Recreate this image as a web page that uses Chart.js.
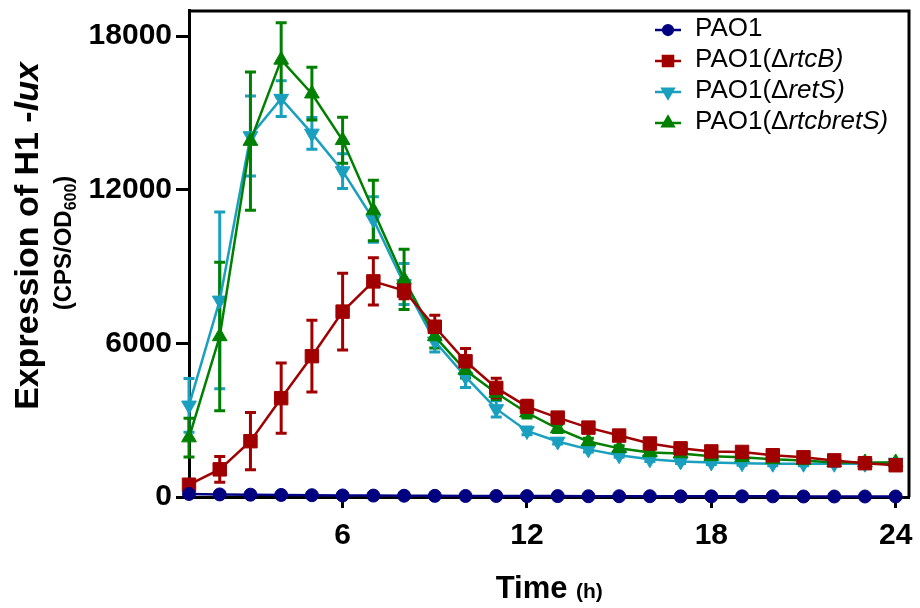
<!DOCTYPE html>
<html>
<head>
<meta charset="utf-8">
<script src="https://cdn.jsdelivr.net/npm/chart.js@4.4.0/dist/chart.umd.min.js"></script>
<style>
  html, body { margin: 0; padding: 0; background: #fff; }
</style>
</head>
<body>
<canvas id="chart" width="920" height="608"></canvas>
<script>
// Time points (h)
const hours = [1, 2, 3, 4, 5, 6, 7, 8, 9, 10, 11, 12, 13, 14, 15, 16, 17, 18, 19, 20, 21, 22, 23, 24];

// Mean values (CPS/OD600) and error bars for each strain
const pao1 = [120, 100, 90, 80, 70, 60, 55, 50, 45, 40, 40, 35, 35, 30, 30, 30, 25, 25, 25, 25, 20, 20, 20, 20];
const pao1Err = [0, 0, 0, 0, 0, 0, 0, 0, 0, 0, 0, 0, 0, 0, 0, 0, 0, 0, 0, 0, 0, 0, 0, 0];

const rtcB = [480, 1080, 2180, 3860, 5500, 7240, 8420, 8060, 6650, 5300, 4260, 3530, 3100, 2710, 2400, 2090, 1900, 1780, 1760, 1630, 1550, 1430, 1320, 1240];
const rtcBErr = [150, 500, 1120, 1370, 1400, 1500, 920, 320, 450, 500, 380, 250, 150, 120, 100, 100, 80, 80, 80, 80, 80, 80, 80, 80];

const retS = [3580, 7680, 14100, 15560, 14200, 12730, 10840, 8320, 6080, 4700, 3440, 2580, 2170, 1860, 1630, 1470, 1390, 1350, 1320, 1300, 1300, 1300, 1300, 1350];
const retSErr = [1050, 3450, 1560, 700, 620, 680, 890, 800, 420, 420, 320, 150, 100, 100, 80, 80, 80, 80, 80, 80, 80, 80, 80, 80];

const rtcbretS = [2320, 6270, 13900, 17070, 15750, 13930, 11190, 8500, 6270, 4950, 4060, 3290, 2670, 2170, 1900, 1740, 1700, 1590, 1550, 1470, 1430, 1350, 1350, 1350];
const rtcbretSErr = [760, 2900, 2700, 1450, 1030, 900, 1180, 1180, 450, 300, 250, 200, 150, 120, 100, 80, 80, 80, 80, 80, 80, 80, 80, 80];

// Axis ticks
const xTickValues = [6, 12, 18, 24];
const yTickValues = [0, 6000, 12000, 18000];

// Legend labels: upright part + italic part
const legendPlain = ["PAO1", "PAO1(\u0394", "PAO1(\u0394", "PAO1(\u0394"];
const legendItalic = ["", "rtcB)", "retS)", "rtcbretS)"];

const FONT = "'Liberation Sans', Arial, sans-serif";
const colors = ["#000080", "#a00000", "#1a9fbf", "#008000"];

function toPoints(values) {
  return hours.map((h, i) => ({ x: h, y: values[i] }));
}

function series(label, values, errors, color, style, radius, rotation) {
  return {
    label: label,
    data: toPoints(values),
    errors: errors,
    borderColor: color,
    backgroundColor: color,
    borderWidth: 2.5,
    pointStyle: style,
    pointRadius: radius,
    pointHoverRadius: radius,
    pointRotation: rotation || 0,
    pointBorderWidth: 1,
    tension: 0,
    clip: false,
  };
}

// Datasets: first one is drawn on top
const datasets = [
  series("PAO1", pao1, pao1Err, colors[0], "circle", 6.5),
  series("PAO1(ΔrtcB)", rtcB, rtcBErr, colors[1], "rect", 9.5),
  series("PAO1(ΔrtcbretS)", rtcbretS, rtcbretSErr, colors[3], "triangle", 8.5),
  series("PAO1(ΔretS)", retS, retSErr, colors[2], "triangle", 8.5, 180),
];

// Error bars, drawn under the markers
const errorBarsPlugin = {
  id: "errorBars",
  beforeDatasetsDraw: (chart) => {
    const ctx = chart.ctx;
    const yScale = chart.scales.y;
    for (let di = chart.data.datasets.length - 1; di >= 0; di--) {
      const ds = chart.data.datasets[di];
      const meta = chart.getDatasetMeta(di);
      ctx.save();
      ctx.strokeStyle = ds.borderColor;
      ctx.lineWidth = 3;
      meta.data.forEach((pt, i) => {
        const e = ds.errors[i];
        if (!e) return;
        const v = ds.data[i].y;
        const top = yScale.getPixelForValue(v + e);
        const bot = yScale.getPixelForValue(v - e);
        ctx.beginPath();
        ctx.moveTo(pt.x, top);
        ctx.lineTo(pt.x, bot);
        ctx.moveTo(pt.x - 5.5, top);
        ctx.lineTo(pt.x + 5.5, top);
        ctx.moveTo(pt.x - 5.5, bot);
        ctx.lineTo(pt.x + 5.5, bot);
        ctx.stroke();
      });
      ctx.restore();
    }
  },
};

// Top and right frame lines
const framePlugin = {
  id: "frame",
  beforeDatasetsDraw: (chart) => {
    const ctx = chart.ctx;
    const a = chart.chartArea;
    ctx.save();
    ctx.strokeStyle = "#000";
    ctx.lineWidth = 3;
    ctx.beginPath();
    ctx.moveTo(a.left, a.top + 0.5);
    ctx.lineTo(a.right - 0.5, a.top + 0.5);
    ctx.lineTo(a.right - 0.5, a.bottom);
    ctx.stroke();
    ctx.restore();
  },
};

function drawRuns(ctx, runs, x, y) {
  runs.forEach((r) => {
    ctx.font = r.font;
    ctx.fillText(r.text, x, y + (r.dy || 0));
    x += ctx.measureText(r.text).width;
  });
}

function runsWidth(ctx, runs) {
  let w = 0;
  runs.forEach((r) => {
    ctx.font = r.font;
    w += ctx.measureText(r.text).width;
  });
  return w;
}

// Axis titles and legend
const labelsPlugin = {
  id: "labels",
  afterDraw: (chart) => {
    const ctx = chart.ctx;
    const a = chart.chartArea;
    ctx.save();
    ctx.fillStyle = "#000";
    ctx.textBaseline = "alphabetic";
    ctx.textAlign = "left";

    // y title
    const yRuns = [
      { text: "Expression of H1 -", font: `bold 34px ${FONT}` },
      { text: "lux", font: `italic bold 34px ${FONT}` },
    ];
    ctx.save();
    ctx.translate(38, 236);
    ctx.rotate(-Math.PI / 2);
    drawRuns(ctx, yRuns, -runsWidth(ctx, yRuns) / 2, 0);
    ctx.restore();

    const subRuns = [
      { text: "(CPS/OD", font: `bold 24px ${FONT}` },
      { text: "600", font: `bold 16px ${FONT}`, dy: 5 },
      { text: ")", font: `bold 24px ${FONT}` },
    ];
    ctx.save();
    ctx.translate(71, 243);
    ctx.rotate(-Math.PI / 2);
    drawRuns(ctx, subRuns, -runsWidth(ctx, subRuns) / 2, 0);
    ctx.restore();

    // x title
    const xRuns = [
      { text: "Time ", font: `bold 31px ${FONT}` },
      { text: "(h)", font: `bold 21px ${FONT}` },
    ];
    drawRuns(ctx, xRuns, (a.left + a.right) / 2 - runsWidth(ctx, xRuns) / 2, 598);

    // legend
    const legendDs = [0, 1, 3, 2];
    legendDs.forEach((dsIndex, row) => {
      const ds = chart.data.datasets[dsIndex];
      const y = 30 + row * 31;
      ctx.strokeStyle = ds.borderColor;
      ctx.lineWidth = 2.5;
      ctx.beginPath();
      ctx.moveTo(655, y);
      ctx.lineTo(681, y);
      ctx.stroke();
      Chart.helpers.drawPoint(ctx, {
        pointStyle: ds.pointStyle,
        rotation: ds.pointRotation,
        radius: ds.pointRadius * 0.75,
        borderWidth: 1,
      }, 668, y);
      ctx.fillStyle = ds.borderColor;
      ctx.fill();
      ctx.fillStyle = "#000";
      ctx.textBaseline = "middle";
      drawRuns(ctx, [
        { text: legendPlain[row], font: `26px ${FONT}` },
        { text: legendItalic[row], font: `italic 26px ${FONT}` },
      ], 695, y - 1);
    });
    ctx.restore();
  },
};

const tickFont = { family: FONT, size: 30, weight: "bold" };

const config = {
  type: "line",
  data: { datasets: datasets },
  options: {
    responsive: false,
    animation: false,
    layout: { padding: { top: 7, right: 8, left: 0, bottom: 0 } },
    scales: {
      x: {
        type: "linear",
        min: 1,
        max: 24.45,
        afterBuildTicks: (s) => { s.ticks = xTickValues.map((v) => ({ value: v })); },
        afterFit: (s) => {
          s.height = 111;
          s.paddingLeft = 0;
          s.paddingRight = 0;
        },
        grid: { display: true, drawOnChartArea: false, drawTicks: true, tickLength: 11, tickWidth: 3, tickColor: "#000" },
        border: { display: true, width: 3, color: "#000" },
        ticks: { font: tickFont, color: "#000", padding: 10, maxRotation: 0, autoSkip: false, callback: (v) => String(v) },
      },
      y: {
        type: "linear",
        min: 0,
        max: 19000,
        afterBuildTicks: (s) => { s.ticks = yTickValues.map((v) => ({ value: v })); },
        afterFit: (s) => {
          s.width = 189;
          s.paddingTop = 0;
          s.paddingBottom = 0;
        },
        grid: { display: true, drawOnChartArea: false, drawTicks: true, tickLength: 13, tickWidth: 3, tickColor: "#000" },
        border: { display: true, width: 3, color: "#000" },
        ticks: { font: tickFont, color: "#000", padding: 4, autoSkip: false, callback: (v) => String(v) },
      },
    },
    plugins: {
      legend: { display: false },
      tooltip: { enabled: false },
    },
  },
  plugins: [errorBarsPlugin, framePlugin, labelsPlugin],
};

const ctx = document.getElementById("chart").getContext("2d");
const myChart = new Chart(ctx, config);
</script>
</body>
</html>
